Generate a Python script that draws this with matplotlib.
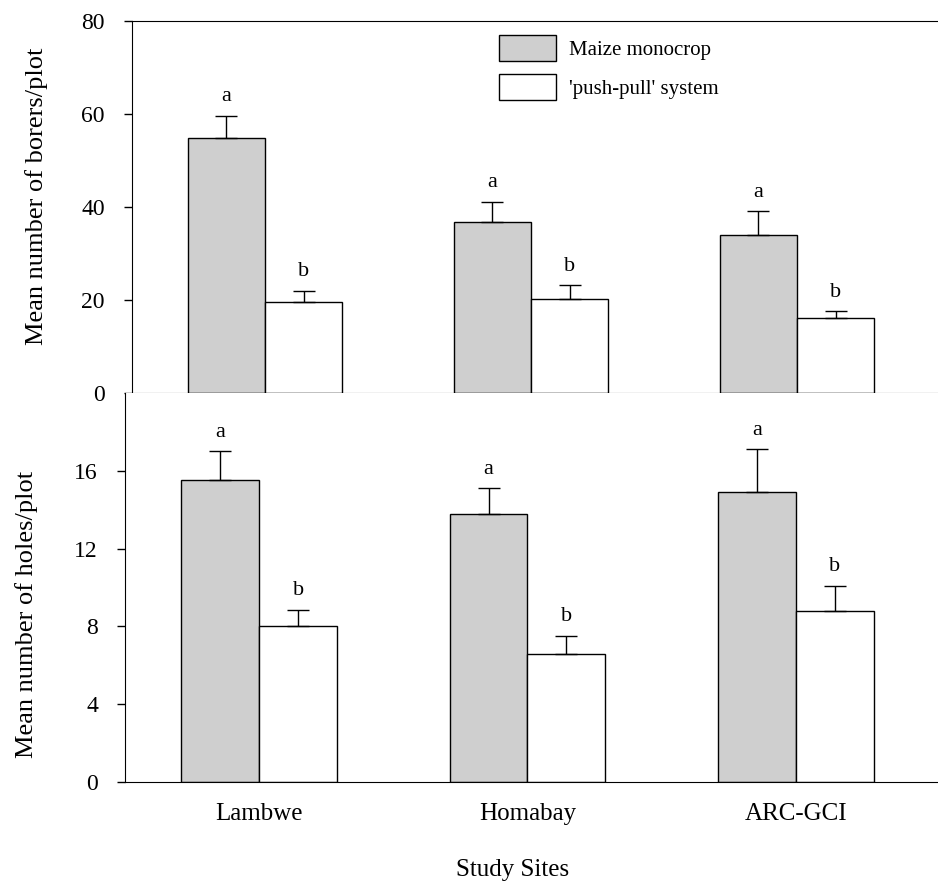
import numpy as np
import matplotlib
matplotlib.use('Agg')
import matplotlib.pyplot as plt

plt.rcParams['font.family'] = ['Liberation Serif', 'DejaVu Serif']

# Dados
sites = ['Lambwe', 'Homabay', 'ARC-GCI']
series = ['Maize monocrop', "'push-pull' system"]

borers_mono = [54.8, 36.8, 34.0]
borers_mono_err = [4.8, 4.3, 5.0]
borers_pp = [19.6, 20.2, 16.0]
borers_pp_err = [2.4, 2.9, 1.5]
borers_letters_mono = ['a', 'a', 'a']
borers_letters_pp = ['b', 'b', 'b']

holes_mono = [15.5, 13.8, 14.9]
holes_mono_err = [1.5, 1.3, 2.2]
holes_pp = [8.0, 6.6, 8.8]
holes_pp_err = [0.85, 0.9, 1.3]
holes_letters_mono = ['a', 'a', 'a']
holes_letters_pp = ['b', 'b', 'b']

fig = plt.figure(figsize=(9.38, 8.83), dpi=100)
ax1 = fig.add_axes([0.1407, 0.555, 0.8593, 0.4217])
ax2 = fig.add_axes([0.1333, 0.1144, 0.8667, 0.4406])

x = np.arange(len(sites))
w = 0.29
grey = '#cfcfcf'


def draw_panel(ax, mono, mono_err, pp, pp_err, let_m, let_p):
    ax.bar(x - w / 2, mono, w, color=grey, edgecolor='black', linewidth=1.0,
           label=series[0], zorder=2)
    ax.bar(x + w / 2, pp, w, color='white', edgecolor='black', linewidth=1.0,
           label=series[1], zorder=2)
    ax.errorbar(x - w / 2, mono, yerr=[np.zeros(3), mono_err], fmt='none',
                ecolor='black', elinewidth=1.0, capsize=8, capthick=1.0, zorder=3)
    ax.errorbar(x + w / 2, pp, yerr=[np.zeros(3), pp_err], fmt='none',
                ecolor='black', elinewidth=1.0, capsize=8, capthick=1.0, zorder=3)
    for i in range(len(sites)):
        ax.annotate(let_m[i], (x[i] - w / 2, mono[i] + mono_err[i]),
                    xytext=(0, 7), textcoords='offset points', ha='center',
                    va='bottom', fontsize=16)
        ax.annotate(let_p[i], (x[i] + w / 2, pp[i] + pp_err[i]),
                    xytext=(0, 7), textcoords='offset points', ha='center',
                    va='bottom', fontsize=16)
    ax.set_xlim(-0.5, 2.53)
    ax.spines['right'].set_visible(False)
    ax.tick_params(axis='y', direction='out', length=6, width=1, pad=13.5,
                   labelsize=17)
    ax.tick_params(axis='x', length=0)


draw_panel(ax1, borers_mono, borers_mono_err, borers_pp, borers_pp_err,
           borers_letters_mono, borers_letters_pp)
draw_panel(ax2, holes_mono, holes_mono_err, holes_pp, holes_pp_err,
           holes_letters_mono, holes_letters_pp)

ax1.set_ylim(0, 80)
ax1.set_yticks([0, 20, 40, 60, 80])
ax1.set_xticks([])
ax1.set_ylabel('Mean number of borers/plot', fontsize=19)
ax1.yaxis.set_label_coords(-0.104, 0.527)

ax2.set_ylim(0, 20)
ax2.set_yticks([0, 4, 8, 12, 16])
ax2.spines['top'].set_visible(False)
ax2.set_xticks(x)
ax2.set_xticklabels(sites, fontsize=18)
ax2.tick_params(axis='x', pad=15)
ax2.set_ylabel('Mean number of holes/plot', fontsize=19)
ax2.yaxis.set_label_coords(-0.107, 0.43)
ax2.set_xlabel('Study Sites', fontsize=18)
ax2.xaxis.set_label_coords(0.477, -0.198)

leg = ax1.legend(loc='upper left', bbox_to_anchor=(0.4326, 1.012), frameon=False,
                 fontsize=15, handlelength=2.7, handleheight=1.55,
                 labelspacing=0.62, handletextpad=0.62)
for p in leg.get_patches():
    p.set_linewidth(1.0)

plt.savefig('out.png', dpi=100)
